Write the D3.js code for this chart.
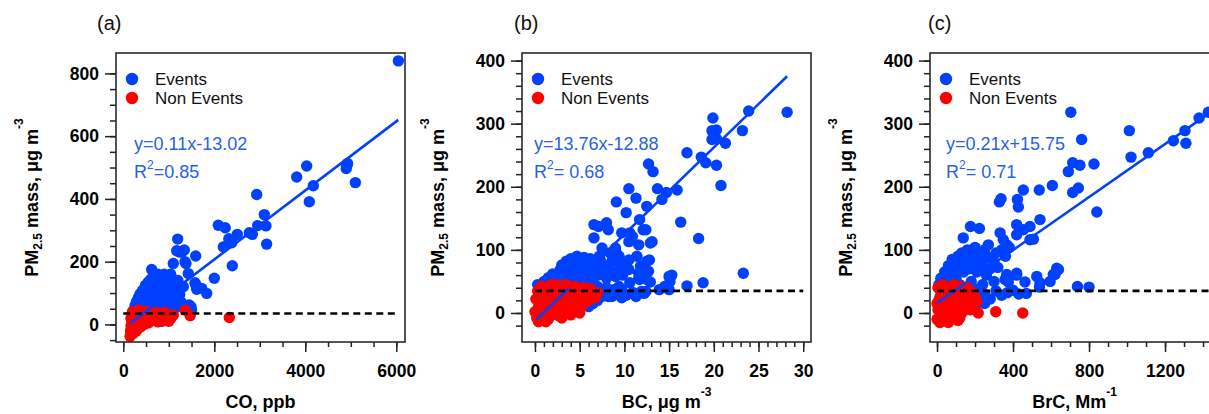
<!DOCTYPE html>
<html><head><meta charset="utf-8">
<script src="https://cdn.jsdelivr.net/npm/d3@7"></script>
<style>body{margin:0;background:#fff}svg{display:block;font-family:Arial,"Liberation Sans",sans-serif}</style>
</head><body>
<svg id="chart" width="1209" height="414"></svg>
<script>
// ---------------- DATA ----------------
const panelLabels = ["(a)", "(b)", "(c)"];
const seriesNames = ["Events", "Non Events"];
const threshold = 35;

// (a) CO (ppb) vs PM2.5
const coEvents = [
  [6045,840],[3811,470],[4031,505],[4176,442],[4088,391],[4910,505],[4930,513],[4900,497],[5100,452],
  [2932,414],[3099,350],[2954,315],[3135,314],[3150,256],[2770,292],[2836,287],[2506,287],[2320,273],
  [2383,260],[2198,247],[2088,316],[2240,308],[2396,187],[2000,147],[1833,99],[1613,112],[1723,115],
  [1576,133],[1591,218],[1196,272],[624,175],[1429,162],[1356,200],[1284,231],[1174,235],[1341,237],
  [1231,231],[1099,194],[1378,194],[1319,120],[1174,77],[1488,56],[1598,125],[1158,83],
  [230,45],[260,60],[290,72],[310,50],[330,85],[350,64],[370,98],[390,55],[410,80],[430,110],
  [450,68],[470,92],[490,125],[510,58],[530,100],[550,135],[570,78],[590,115],[610,145],[620,62],
  [640,95],[660,128],[680,150],[700,72],[720,110],[740,140],[760,160],[780,88],[800,125],[820,150],
  [840,65],[860,105],[880,140],[900,160],[920,85],[940,120],[960,150],[980,100],[1000,135],[1020,70],
  [1040,160],[1060,110],[1080,145],[1100,85],[1130,125],[1160,100],[1200,140],[1240,95],[1280,70],
  [1330,60],[1390,50],[1450,62],[1500,45],[560,45],[660,42],[760,50],[860,45],[960,55],[1060,45],
  [1160,55],[420,40],[500,38],[600,36],[700,40],[800,38],[900,40],[1000,42],[700,15],[850,10],
  [950,20],[350,35],[280,40]
];
const coNonEvents = [
  [150,-38],[160,-20],[170,-5],[180,-30],[190,10],[200,-15],[210,25],[220,-28],[230,0],[240,35],
  [250,-10],[260,15],[270,40],[280,-22],[290,5],[300,28],[320,-5],[330,45],[340,18],[360,32],
  [380,-8],[400,10],[420,38],[440,22],[460,0],[480,30],[500,15],[520,40],[550,5],[580,25],
  [600,35],[630,12],[660,30],[700,20],[720,38],[760,8],[800,28],[840,18],[880,32],[920,12],
  [960,25],[1000,10],[1050,20],[1100,30],[1360,45],[1470,28],[2330,22],
  [170,20],[200,40],[310,-15],[450,42],[620,42],[900,38],[1000,30]
];

// (b) BC (ug m-3) vs PM2.5
const bcEvents = [
  [28.2,318],[23.9,320],[23.2,289],[19.9,309],[19.8,289],[20.3,290],[19.8,275],[20.3,276],[21.3,269],
  [20.3,234],[20.8,202],[18.6,247],[19.1,238],[17.0,254],[15.9,195],[14.7,191],[14.2,180],[13.7,197],
  [12.7,236],[13.2,224],[12.5,169],[16.3,144],[18.3,118],[23.3,63],[18.8,48],[17.0,43],[15.3,60],
  [15.1,50],[14.5,42],[13.1,113],[12.8,84],[12.9,49],[10.5,197],[11.3,182],[9.1,176],[10.2,159],
  [11.7,148],[12.1,132],[9.7,127],[10.6,127],[10.9,121],[10.5,113],[11.6,108],[12.4,132],[12.9,111],
  [6.6,140],[7.1,137],[8.0,143],[8.2,132],[6.6,119],[7.5,103],[8.4,95],[9.0,103],[9.4,90],[7.3,84],
  [8.6,82],[10.5,84],[11.4,90],[11.8,74],[12.5,82],[12.7,66],[10.5,69],[11.6,55],[12.5,53],[15.0,58],
  [9.7,37],[10.9,32],[12.4,34],[13.9,37],[15.0,37],[7.5,26],[8.6,26],[9.7,24],[11.6,63],[11.7,53],
  [10.6,48],[9.4,42],[8.8,37],[8.2,26],[11.0,32],[11.9,34],[9.1,95],[9.5,79],[10.2,69],
  [0.3,45],[1.0,50],[1.5,56],[2.0,62],[2.5,52],[2.8,68],[3.0,76],[3.3,58],[3.5,82],[3.8,65],
  [4.0,86],[4.2,72],[4.5,60],[4.7,90],[5.0,78],[5.2,68],[5.5,88],[5.8,75],[6.0,62],[6.2,86],
  [6.5,70],[6.8,80],[7.0,60],[7.2,90],[7.5,72],[7.8,65],[8.0,55],[8.3,76],[8.6,64],[9.0,58],
  [9.4,68],[9.8,60],[3.0,45],[4.0,50],[5.0,48],[6.0,45],[7.0,42],[8.0,40],[6.5,52],[5.5,56],
  [4.5,42],[7.0,20],[6.5,15],[6.0,10],[7.8,30],[9.2,30],[10.2,28],[11.3,26],[12.2,31]
];
const bcNonEvents = [
  [0.0,2],[0.2,-8],[0.4,10],[0.5,-12],[0.6,20],[0.8,0],[0.9,30],[1.0,-5],[1.2,15],[1.3,40],
  [1.5,5],[1.6,25],[1.8,45],[2.0,-2],[2.1,18],[2.3,35],[2.5,8],[2.7,28],[2.9,42],[3.0,0],
  [3.2,20],[3.4,33],[3.6,10],[3.8,25],[4.0,38],[4.2,15],[4.4,5],[4.6,28],[4.8,20],[5.0,35],
  [5.2,10],[5.4,25],[5.6,30],[5.8,18],[6.0,28],[6.3,22],[6.5,30],[5.0,0],[4.0,-3],[3.0,-8],
  [1.5,-10],[2.5,45],[0.3,35],[0.1,22],[0.7,42],[1.1,32],[2.0,38],[3.5,45],[4.5,42],[5.5,40],
  [6.8,25],[7.0,32],[6.2,38],[3.9,5],[2.6,-4],[1.8,12],[3.1,12],[4.9,12],[0.4,-14],[1.2,-14]
];

// (c) BrC (Mm-1) vs PM2.5
const brcEvents = [
  [704,318],[761,275],[1012,289],[1021,247],[1112,254],[1244,273],[1305,289],[1310,269],[1379,309],
  [1428,318],[826,236],[714,238],[691,224],[752,234],[714,191],[744,198],[607,202],[841,160],
  [454,195],[538,195],[423,180],[428,168],[328,176],[337,181],[138,119],[176,137],[223,134],
  [419,140],[489,137],[542,148],[419,124],[507,117],[332,127],[349,116],[367,108],[270,108],
  [454,132],[489,116],[630,71],[612,61],[595,50],[739,42],[800,41],[539,41],[463,49],[419,60],
  [375,49],[470,31],[367,61],[419,63],[358,53],[525,58],[542,48],[639,69],[621,61],
  [10,45],[20,55],[30,40],[40,65],[50,50],[60,75],[70,60],[80,85],[90,70],[100,55],
  [110,90],[120,75],[130,95],[140,65],[150,85],[160,100],[170,70],[180,90],[190,80],[200,104],
  [210,65],[220,95],[230,85],[240,75],[250,100],[260,60],[270,88],[280,70],[300,80],[310,95],
  [320,72],[340,100],[360,90],[380,104],[60,42],[120,45],[180,50],[240,45],[300,50],[150,40],
  [200,38],[220,25],[250,30],[280,22],[310,35],[340,28],[370,32],[400,36],[430,30],[250,15],[200,10]
];
const brcNonEvents = [
  [0,-10],[5,5],[10,20],[15,-15],[20,35],[25,0],[30,12],[35,-5],[40,28],[45,42],
  [50,8],[55,-10],[60,22],[65,35],[70,0],[75,15],[80,-8],[85,30],[90,45],[95,5],
  [100,18],[105,-3],[110,32],[115,10],[120,25],[125,40],[130,0],[135,20],[140,12],[145,30],
  [150,5],[160,22],[170,15],[180,30],[190,10],[200,25],[160,40],[110,-12],[60,-15],[30,45],
  [217,0],[309,2],[451,0],[5,40],[15,25],[0,15],[25,-12],[45,18],[70,40],[90,-5],[130,42],
  [150,35],[175,5],[190,32],[210,18],[120,-8],[80,18],[40,5]
];

// regression fits
const fitSlope = [0.11, 13.76, 0.21];
const fitIntercept = [-13.02, -12.88, 15.75];
const fitXStart = [147, 0.18, 0];
const fitXEnd = [6044, 28.2, 1600];
const fitOverlayEnd = [1000, 3.8, 150];   // part of the fit line that shows over the non-event points
const eqTexts = ["y=0.11x-13.02", "y=13.76x-12.88", "y=0.21x+15.75"];
const r2Texts = ["=0.85", "= 0.68", "= 0.71"];

// axes
const xTitleMain = ["CO, ppb", "BC, μg m", "BrC, Mm"];
const xTitleSup = ["", "-3", "-1"];
const aXTicks = [0, 2000, 4000, 6000], aYTicks = [0, 200, 400, 600, 800];
const bXTicks = [0, 5, 10, 15, 20, 25, 30], bYTicks = [0, 100, 200, 300, 400];
const cXTicks = [0, 400, 800, 1200], cYTicks = [0, 100, 200, 300, 400];
const aXMinor = d3.range(0, 6001, 500), aYMinor = d3.range(-50, 801, 50);
const bXMinor = d3.range(0, 31, 1), bYMinor = d3.range(-20, 401, 20);
const cXMinor = d3.range(0, 1401, 100), cYMinor = d3.range(-20, 401, 20);

// ---------------- LAYOUT ----------------
const BLUE = "#0040ff", RED = "#ff0000", EQ = "#2a5fe6";
const R = 5.7;
const TOP = 53, BOTTOM = 342;
const panels = [
  {left:116, right:405, xDom:[-160,6191], yDom:[-56,865], ev:coEvents, ne:coNonEvents,
   xt:aXTicks, yt:aYTicks, xm:aXMinor, ym:aYMinor, labelX:97, eqDx:18},
  {left:522, right:811, xDom:[-1.45,30.87], yDom:[-46,412], ev:bcEvents, ne:bcNonEvents,
   xt:bXTicks, yt:bYTicks, xm:bXMinor, ym:bYMinor, labelX:514, eqDx:12},
  {left:930, right:1219, xDom:[-37,1484], yDom:[-46,412], ev:brcEvents, ne:brcNonEvents,
   xt:cXTicks, yt:cYTicks, xm:cXMinor, ym:cYMinor, labelX:928, eqDx:16}
];

const svg = d3.select("#chart");

panels.forEach((p, i) => {
  const x = d3.scaleLinear().domain(p.xDom).range([p.left, p.right]);
  const y = d3.scaleLinear().domain(p.yDom).range([BOTTOM, TOP]);
  const g = svg.append("g");

  const clipId = "clip" + i;
  g.append("clipPath").attr("id", clipId).append("rect")
    .attr("x", p.left).attr("y", TOP).attr("width", p.right - p.left).attr("height", BOTTOM - TOP);

  const tickStyle = sel => {
    sel.select(".domain").remove();
    sel.selectAll("line").attr("stroke", "#222").attr("stroke-width", 1.5);
  };
  g.append("g").attr("transform", `translate(0,${BOTTOM})`)
    .call(d3.axisBottom(x).tickValues(p.xm).tickSize(5).tickFormat(""))
    .call(tickStyle);
  const xa = g.append("g").attr("transform", `translate(0,${BOTTOM})`)
    .call(d3.axisBottom(x).tickValues(p.xt).tickSize(10).tickPadding(13).tickFormat(d3.format("d")))
    .call(tickStyle);
  xa.selectAll("text").attr("font-size", 17.5).attr("font-weight", "bold").attr("fill", "#000")
    .attr("font-family", "Arial, 'Liberation Sans', sans-serif");

  g.append("g").attr("transform", `translate(${p.left},0)`)
    .call(d3.axisLeft(y).tickValues(p.ym).tickSize(6).tickFormat(""))
    .call(tickStyle);
  const ya = g.append("g").attr("transform", `translate(${p.left},0)`)
    .call(d3.axisLeft(y).tickValues(p.yt).tickSize(11).tickPadding(6).tickFormat(d3.format("d")))
    .call(tickStyle);
  ya.selectAll("text").attr("font-size", 17.5).attr("font-weight", "bold").attr("fill", "#000")
    .attr("font-family", "Arial, 'Liberation Sans', sans-serif");

  const plot = g.append("g").attr("clip-path", `url(#${clipId})`);
  const fy = v => y(fitSlope[i] * v + fitIntercept[i]);

  // regression line (under the event markers)
  plot.append("line")
    .attr("x1", x(fitXStart[i])).attr("y1", fy(fitXStart[i]))
    .attr("x2", x(fitXEnd[i])).attr("y2", fy(fitXEnd[i]))
    .attr("stroke", BLUE).attr("stroke-width", 2.6);
  // events
  plot.append("g").selectAll("circle").data(p.ev).join("circle")
    .attr("cx", d => x(d[0])).attr("cy", d => y(d[1])).attr("r", R).attr("fill", BLUE);
  // non events
  plot.append("g").selectAll("circle").data(p.ne).join("circle")
    .attr("cx", d => x(d[0])).attr("cy", d => y(d[1])).attr("r", R).attr("fill", RED);
  // fit line visible over the non-event cloud
  plot.append("line")
    .attr("x1", x(fitXStart[i])).attr("y1", fy(fitXStart[i]))
    .attr("x2", x(fitOverlayEnd[i])).attr("y2", fy(fitOverlayEnd[i]))
    .attr("stroke", BLUE).attr("stroke-width", 2.6);
  // threshold
  plot.append("line")
    .attr("x1", x(0)).attr("x2", x(p.xt[p.xt.length - 1]) + (i === 2 ? 200 : 0))
    .attr("y1", y(threshold)).attr("y2", y(threshold))
    .attr("stroke", "#000").attr("stroke-width", 2.6).attr("stroke-dasharray", "7,4.5");

  // frame
  g.append("rect").attr("x", p.left).attr("y", TOP)
    .attr("width", p.right - p.left).attr("height", BOTTOM - TOP)
    .attr("fill", "none").attr("stroke", "#2a2a2a").attr("stroke-width", 1.6);

  // legend
  const leg = g.append("g");
  [BLUE, RED].forEach((c, k) => {
    leg.append("circle").attr("cx", p.left + 16).attr("cy", 79 + k * 19).attr("r", 6.2).attr("fill", c);
    leg.append("text").attr("x", p.left + 39).attr("y", 79 + k * 19 + 6)
      .attr("font-size", 17).attr("fill", "#111").text(seriesNames[k]);
  });

  // equation
  g.append("text").attr("x", p.left + p.eqDx).attr("y", 149.5).attr("font-size", 18)
    .attr("fill", EQ).text(eqTexts[i]);
  const r2 = g.append("text").attr("x", p.left + p.eqDx).attr("y", 177.5).attr("font-size", 18).attr("fill", EQ);
  r2.append("tspan").text("R");
  r2.append("tspan").attr("font-size", 12).attr("dy", -9).text("2");
  r2.append("tspan").attr("dy", 9).text(r2Texts[i]);

  // panel label
  g.append("text").attr("x", p.labelX).attr("y", 30).attr("font-size", 20).attr("fill", "#111").text(panelLabels[i]);

  // x title
  const xt = g.append("text").attr("x", (p.left + p.right) / 2).attr("y", 408)
    .attr("text-anchor", "middle").attr("font-size", 18).attr("font-weight", "bold").attr("fill", "#000");
  xt.append("tspan").text(xTitleMain[i]);
  if (xTitleSup[i]) xt.append("tspan").attr("font-size", 12).attr("dy", -12).text(xTitleSup[i]);

  // y title
  const ty = g.append("text")
    .attr("transform", `translate(${p.left - 78},${(TOP + BOTTOM) / 2}) rotate(-90)`)
    .attr("text-anchor", "middle").attr("font-size", 18).attr("font-weight", "bold").attr("fill", "#000");
  ty.append("tspan").text("PM");
  ty.append("tspan").attr("font-size", 12).attr("dy", 4).text("2.5");
  ty.append("tspan").attr("dy", -4).text(" mass, μg m");
  ty.append("tspan").attr("font-size", 12).attr("dy", -15).text("-3");
});
</script>
</body></html>
